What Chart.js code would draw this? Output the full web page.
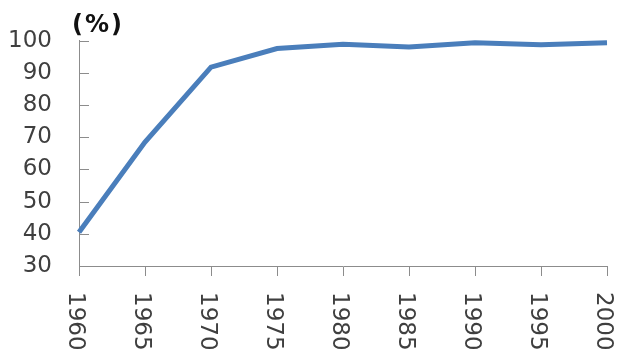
<!DOCTYPE html>
<html>
<head>
<meta charset="utf-8">
<script src="https://cdn.jsdelivr.net/npm/chart.js@4/dist/chart.umd.min.js"></script>
<style>
  html, body { margin: 0; padding: 0; background: #ffffff; }
  #wrap { width: 618px; height: 354px; position: relative; }
</style>
</head>
<body>
<div id="wrap"><canvas id="c"></canvas></div>
<script>
// Years on the horizontal axis
const years = ['1960', '1965', '1970', '1975', '1980', '1985', '1990', '1995', '2000'];
// Rate in percent for each year
const rates = [40.5, 68.5, 91.8, 97.6, 98.9, 98.1, 99.4, 98.8, 99.4];
// Vertical axis range and step
const yMin = 30;
const yMax = 100;
const yStep = 10;
const unitLabel = '(%)';

const AXIS_COLOR = '#8c8c8c';
const TEXT_COLOR = '#3f3f3f';
const LINE_COLOR = '#4a7ebb';
const TICK_SIZE = 23;
const TICK_FONT = TICK_SIZE + 'px "DejaVu Sans"';

// Inside tick marks on the y axis, rotated x labels and the unit caption
const decorations = {
  id: 'decorations',
  afterDraw(chart) {
    const ctx = chart.ctx;
    const x = chart.scales.x;
    const y = chart.scales.y;
    const area = chart.chartArea;
    ctx.save();
    // y-axis tick marks pointing into the plot
    ctx.strokeStyle = AXIS_COLOR;
    ctx.lineWidth = 1;
    for (let v = yMin + yStep; v <= yMax; v += yStep) {
      const py = Math.round(y.getPixelForValue(v)) + 0.5;
      ctx.beginPath();
      ctx.moveTo(area.left, py);
      ctx.lineTo(area.left + 10, py);
      ctx.stroke();
    }
    // x labels, rotated clockwise to read top to bottom
    ctx.fillStyle = TEXT_COLOR;
    ctx.font = TICK_FONT;
    ctx.textAlign = 'left';
    ctx.textBaseline = 'alphabetic';
    const half = TICK_SIZE * 0.729 / 2;
    years.forEach((label, i) => {
      const px = x.getPixelForValue(i);
      ctx.save();
      ctx.translate(px - 1.5 - half, area.bottom + 26);
      ctx.rotate(Math.PI / 2);
      ctx.fillText(label, 0, 0);
      ctx.restore();
    });
    // unit caption above the y axis
    ctx.fillStyle = '#111111';
    ctx.font = 'bold 24px "DejaVu Sans"';
    ctx.textAlign = 'left';
    ctx.textBaseline = 'middle';
    if ('letterSpacing' in ctx) ctx.letterSpacing = '2px';
    ctx.fillText(unitLabel, area.left - 7, 26);
    ctx.restore();
  }
};

new Chart(document.getElementById('c'), {
  type: 'line',
  data: {
    labels: years,
    datasets: [{
      data: rates,
      borderColor: LINE_COLOR,
      borderWidth: 5,
      pointRadius: 0,
      fill: false,
      tension: 0,
      clip: false
    }]
  },
  options: {
    responsive: true,
    maintainAspectRatio: false,
    animation: false,
    layout: { padding: { top: 37, right: 11, left: 0, bottom: 0 } },
    plugins: { legend: { display: false }, tooltip: { enabled: false } },
    scales: {
      x: {
        type: 'category',
        offset: false,
        afterFit(scale) { scale.height = 88; },
        border: { display: true, color: AXIS_COLOR, width: 1 },
        grid: {
          drawOnChartArea: false,
          drawTicks: true,
          tickLength: 10,
          color: AXIS_COLOR
        },
        ticks: { display: false }
      },
      y: {
        min: yMin,
        max: yMax,
        afterFit(scale) { scale.width = 79; },
        border: { display: true, color: AXIS_COLOR, width: 1 },
        grid: { display: false, drawTicks: false },
        ticks: {
          stepSize: yStep,
          color: TEXT_COLOR,
          font: { family: 'DejaVu Sans', size: TICK_SIZE },
          padding: 27
        }
      }
    }
  },
  plugins: [decorations]
});
</script>
</body>
</html>
